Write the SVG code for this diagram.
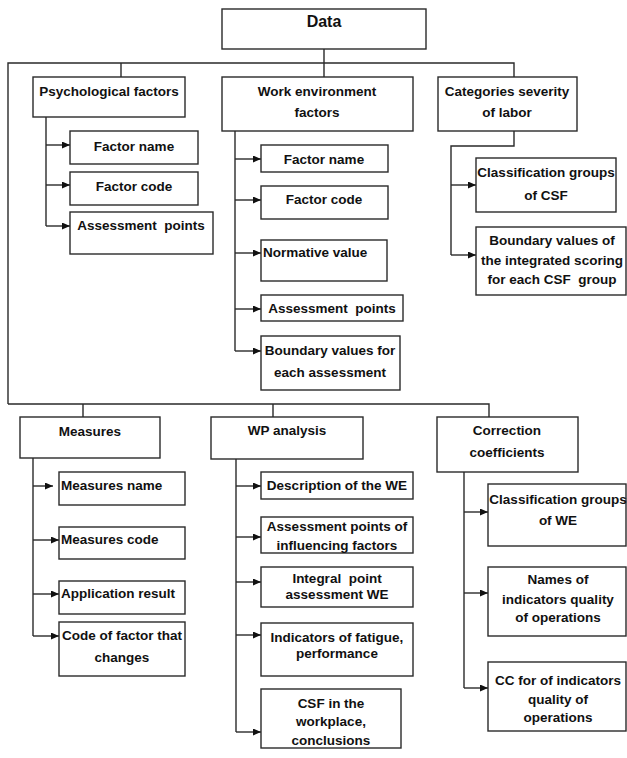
<svg xmlns="http://www.w3.org/2000/svg" width="627" height="758" viewBox="0 0 627 758">
<style>
.b{fill:#fff;stroke:#2a2a2a;stroke-width:1.4}
.t{font-family:"Liberation Sans",Arial,sans-serif;font-weight:bold;font-size:13.5px;fill:#111;text-anchor:middle}
.l{text-anchor:start}
.c{fill:none;stroke:#2a2a2a;stroke-width:1.4}
.a{marker-end:url(#ah)}
</style>
<defs>
<marker id="ah" markerUnits="userSpaceOnUse" markerWidth="9" markerHeight="8" refX="8" refY="3.5" orient="auto">
<path d="M0,0 L8,3.5 L0,7 z" fill="#111"/>
</marker>
</defs>
<rect width="627" height="758" fill="#fff"/>
<g id="connectors">
<path class="c" d="M324,49 V77 M8,404 V63 H514 V77 M121,63 V77"/>
<path class="c" d="M8,404 H489 V417 M83,404 V417 M273,404 V417"/>
<path class="c" d="M46,117 V226"/>
<path class="c a" d="M46,145 H70"/>
<path class="c a" d="M46,185 H70"/>
<path class="c a" d="M46,226 H70"/>
<path class="c" d="M235,131 V351"/>
<path class="c a" d="M235,159 H261"/>
<path class="c a" d="M235,200 H261"/>
<path class="c a" d="M235,253 H261"/>
<path class="c a" d="M235,309 H261"/>
<path class="c a" d="M235,351 H261"/>
<path class="c" d="M514,131 V146 H451 V255"/>
<path class="c a" d="M451,185 H476"/>
<path class="c a" d="M451,255 H476"/>
<path class="c" d="M33,458 V636"/>
<path class="c a" d="M33,486 H53"/>
<path class="c a" d="M33,540 H59"/>
<path class="c a" d="M33,594 H59"/>
<path class="c a" d="M33,636 H59"/>
<path class="c" d="M236,459 V732"/>
<path class="c a" d="M236,486 H261"/>
<path class="c a" d="M236,537 H261"/>
<path class="c a" d="M236,582 H261"/>
<path class="c a" d="M236,635 H261"/>
<path class="c a" d="M236,732 H261"/>
<path class="c" d="M464,472 V688"/>
<path class="c a" d="M464,512 H488"/>
<path class="c a" d="M464,593 H488"/>
<path class="c a" d="M464,688 H488"/>
</g>
<g id="data"><rect class="b" x="222" y="9" width="204" height="40"/><text class="t" x="324" y="27" style="font-size:16px">Data</text></g>
<g id="psych"><rect class="b" x="33" y="77" width="152" height="40"/><text class="t" x="109" y="96">Psychological factors</text></g>
<g id="workenv"><rect class="b" x="222" y="77" width="191" height="54"/><text class="t" x="317" y="96">Work environment</text><text class="t" x="317" y="117">factors</text></g>
<g id="categories"><rect class="b" x="438" y="77" width="139" height="54"/><text class="t" x="507" y="96">Categories severity</text><text class="t" x="507" y="117">of labor</text></g>
<g id="p-name"><rect class="b" x="70" y="131" width="128" height="33"/><text class="t" x="134" y="151">Factor name</text></g>
<g id="p-code"><rect class="b" x="70" y="172" width="128" height="33"/><text class="t" x="134" y="191">Factor code</text></g>
<g id="p-points"><rect class="b" x="70" y="212" width="143" height="42"/><text class="t" x="141" y="230" xml:space="preserve">Assessment  points</text></g>
<g id="w-name"><rect class="b" x="261" y="145" width="127" height="27"/><text class="t" x="324" y="164">Factor name</text></g>
<g id="w-code"><rect class="b" x="261" y="186" width="127" height="33"/><text class="t" x="324" y="204">Factor code</text></g>
<g id="w-norm"><rect class="b" x="261" y="240" width="126" height="41"/><text class="t l" x="263" y="257">Normative value</text></g>
<g id="w-points"><rect class="b" x="261" y="295" width="142" height="26"/><text class="t" x="332" y="313" xml:space="preserve">Assessment  points</text></g>
<g id="w-bound"><rect class="b" x="261" y="336" width="139" height="54"/><text class="t" x="330" y="355">Boundary values for</text><text class="t" x="330" y="377">each assessment</text></g>
<g id="c-class"><rect class="b" x="476" y="158" width="140" height="54"/><text class="t" x="546" y="177">Classification groups</text><text class="t" x="546" y="200">of CSF</text></g>
<g id="c-bound"><rect class="b" x="476" y="227" width="150" height="68"/><text class="t" x="552" y="245">Boundary values of</text><text class="t" x="552" y="265">the integrated scoring</text><text class="t" x="552" y="284" xml:space="preserve">for each CSF  group</text></g>
<g id="measures"><rect class="b" x="20" y="417" width="140" height="41"/><text class="t" x="90" y="436">Measures</text></g>
<g id="wp"><rect class="b" x="211" y="417" width="152" height="42"/><text class="t" x="287" y="435">WP analysis</text></g>
<g id="correction"><rect class="b" x="437" y="417" width="141" height="55"/><text class="t" x="507" y="435">Correction</text><text class="t" x="507" y="457">coefficients</text></g>
<g id="m-name"><rect class="b" x="59" y="472" width="126" height="33"/><text class="t l" x="61" y="490">Measures name</text></g>
<g id="m-code"><rect class="b" x="59" y="527" width="126" height="32"/><text class="t l" x="61" y="544">Measures code</text></g>
<g id="m-result"><rect class="b" x="59" y="581" width="126" height="33"/><text class="t l" x="61" y="598">Application result</text></g>
<g id="m-factor"><rect class="b" x="59" y="622" width="126" height="54"/><text class="t" x="122" y="640">Code of factor that</text><text class="t" x="122" y="662">changes</text></g>
<g id="wp-desc"><rect class="b" x="261" y="472" width="152" height="27"/><text class="t" x="337" y="490">Description of the WE</text></g>
<g id="wp-points"><rect class="b" x="261" y="517" width="152" height="36"/><text class="t" x="337" y="531">Assessment points of</text><text class="t" x="337" y="550">influencing factors</text></g>
<g id="wp-integral"><rect class="b" x="261" y="567" width="152" height="40"/><text class="t" x="337" y="583" xml:space="preserve">Integral  point</text><text class="t" x="337" y="599">assessment WE</text></g>
<g id="wp-fatigue"><rect class="b" x="261" y="623" width="152" height="53"/><text class="t" x="337" y="642">Indicators of fatigue,</text><text class="t" x="337" y="658">performance</text></g>
<g id="wp-csf"><rect class="b" x="261" y="689" width="140" height="59"/><text class="t" x="331" y="708">CSF in the</text><text class="t" x="331" y="726">workplace,</text><text class="t" x="331" y="745">conclusions</text></g>
<g id="cc-class"><rect class="b" x="488" y="484" width="138" height="62"/><text class="t" x="558" y="504">Classification groups</text><text class="t" x="558" y="525">of WE</text></g>
<g id="cc-names"><rect class="b" x="488" y="567" width="138" height="69"/><text class="t" x="558" y="584">Names of</text><text class="t" x="558" y="604">indicators quality</text><text class="t" x="558" y="622">of operations</text></g>
<g id="cc-cc"><rect class="b" x="488" y="662" width="138" height="69"/><text class="t" x="558" y="685">CC for of indicators</text><text class="t" x="558" y="704">quality of</text><text class="t" x="558" y="722">operations</text></g>
</svg>
